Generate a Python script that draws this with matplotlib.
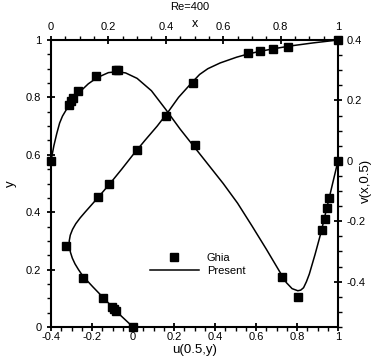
import matplotlib
matplotlib.use("Agg")
import matplotlib.pyplot as plt
import numpy as np
from matplotlib.ticker import MultipleLocator, FixedLocator, FixedFormatter
from matplotlib.lines import Line2D

plt.rcParams['font.family'] = ['Liberation Sans', 'DejaVu Sans']
plt.rcParams['axes.unicode_minus'] = False

# Ghia et al. reference data, Re=400
ghia_y = [1.0, 0.9766, 0.9688, 0.9609, 0.9531, 0.8516, 0.7344, 0.6172, 0.5, 0.4531,
          0.2813, 0.1719, 0.1016, 0.0703, 0.0625, 0.0547, 0.0]
ghia_u = [1.0, 0.75837, 0.68439, 0.61756, 0.55892, 0.29093, 0.16256, 0.02135, -0.11477,
          -0.17119, -0.32726, -0.24299, -0.14612, -0.10338, -0.09266, -0.08186, 0.0]
ghia_x = [1.0, 0.9688, 0.9609, 0.9531, 0.9453, 0.8594, 0.8047, 0.5, 0.2344, 0.2266,
          0.1563, 0.0938, 0.0781, 0.0703, 0.0625, 0.0]
ghia_v = [0.0, -0.12146, -0.15663, -0.19254, -0.22847, -0.44993, -0.38598, 0.05186,
          0.30174, 0.30203, 0.28124, 0.22965, 0.20920, 0.19713, 0.18360, 0.0]

# Present solution
pres_y = [0.0, 0.02, 0.04, 0.06, 0.08, 0.10, 0.12, 0.14, 0.16, 0.18, 0.20, 0.22, 0.24,
          0.26, 0.28, 0.30, 0.32, 0.34, 0.36, 0.38, 0.40, 0.425, 0.45, 0.475, 0.50,
          0.55, 0.60, 0.65, 0.70, 0.75, 0.80, 0.85, 0.88, 0.90, 0.92, 0.94, 0.95,
          0.96, 0.97, 0.98, 0.99, 1.0]
pres_u = [0.0, -0.03, -0.06, -0.088, -0.115, -0.142, -0.169, -0.196, -0.222, -0.247,
          -0.266, -0.283, -0.296, -0.305, -0.310, -0.311, -0.306, -0.295, -0.279,
          -0.258, -0.234, -0.203, -0.172, -0.142, -0.112, -0.055, 0.0, 0.058, 0.118,
          0.172, 0.222, 0.285, 0.325, 0.365, 0.425, 0.505, 0.555, 0.615, 0.69, 0.775,
          0.88, 1.0]
pres_x = [0.0, 0.01, 0.02, 0.03, 0.04, 0.06, 0.08, 0.10, 0.13, 0.16, 0.20, 0.23, 0.26,
          0.30, 0.35, 0.40, 0.45, 0.50, 0.55, 0.60, 0.65, 0.70, 0.75, 0.80, 0.82, 0.84,
          0.86, 0.87, 0.88, 0.89, 0.90, 0.92, 0.94, 0.96, 0.98, 1.0]
pres_v = [0.0, 0.05, 0.09, 0.125, 0.148, 0.18, 0.207, 0.228, 0.255, 0.275, 0.292, 0.295,
          0.291, 0.273, 0.232, 0.17, 0.105, 0.045, -0.015, -0.075, -0.14, -0.215, -0.292,
          -0.372, -0.403, -0.423, -0.430, -0.428, -0.42, -0.40, -0.375, -0.31, -0.24,
          -0.16, -0.08, 0.0]

bottom_ticks = [-0.4, -0.2, 0, 0.2, 0.4, 0.6, 0.8, 1]
bottom_labels = ["-0.4", "-0.2", "0", "0.2", "0.4", "0.6", "0.8", "1"]
left_ticks = [0, 0.2, 0.4, 0.6, 0.8, 1]
left_labels = ["0", "0.2", "0.4", "0.6", "0.8", "1"]
top_ticks = [0, 0.2, 0.4, 0.6, 0.8, 1]
top_labels = ["0", "0.2", "0.4", "0.6", "0.8", "1"]
right_ticks = [-0.4, -0.2, 0, 0.2, 0.4]
right_labels = ["-0.4", "-0.2", "0", "0.2", "0.4"]

W, H = 374, 363
fig = plt.figure(figsize=(W / 100, H / 100), dpi=100)
pos = [51 / W, (H - 327) / H, 287 / W, 287 / H]
ax = fig.add_axes(pos)
ax2 = fig.add_axes(pos, frameon=False)

lw_curve = 1.1
ms = 5.2

ax.plot(pres_u, pres_y, '-', color='black', lw=lw_curve, solid_joinstyle='round')
ax.plot(ghia_u, ghia_y, 's', color='black', ms=ms, clip_on=False)
ax2.plot(pres_x, pres_v, '-', color='black', lw=lw_curve, solid_joinstyle='round')
ax2.plot(ghia_x, ghia_v, 's', color='black', ms=ms, clip_on=False)

ax.set_xlim(-0.4, 1.0)
ax.set_ylim(0, 1)
ax2.set_xlim(0, 1)
ax2.set_ylim(-0.55, 0.4)

for s in ax.spines.values():
    s.set_linewidth(1.5)

ax.xaxis.set_major_locator(FixedLocator(bottom_ticks))
ax.xaxis.set_major_formatter(FixedFormatter(bottom_labels))
ax.yaxis.set_major_locator(FixedLocator(left_ticks))
ax.yaxis.set_major_formatter(FixedFormatter(left_labels))
ax.xaxis.set_minor_locator(MultipleLocator(0.05))
ax.yaxis.set_minor_locator(MultipleLocator(0.05))

ax2.xaxis.tick_top()
ax2.yaxis.tick_right()
ax2.xaxis.set_major_locator(FixedLocator(top_ticks))
ax2.xaxis.set_major_formatter(FixedFormatter(top_labels))
ax2.yaxis.set_major_locator(FixedLocator(right_ticks))
ax2.yaxis.set_major_formatter(FixedFormatter(right_labels))
ax2.xaxis.set_minor_locator(MultipleLocator(0.05))
ax2.yaxis.set_minor_locator(MultipleLocator(0.05))

fs = 8
ax.tick_params(axis='x', which='major', direction='inout', length=6, width=1.3, pad=0.8, labelsize=fs)
ax.tick_params(axis='y', which='major', direction='inout', length=6, width=1.3, pad=4.0, labelsize=fs)
ax.tick_params(which='minor', direction='out', length=3, width=1.0)
ax.tick_params(top=False, right=False, which='both')
ax2.tick_params(axis='x', which='major', direction='inout', length=6, width=1.3, pad=2.5, labelsize=fs)
ax2.tick_params(axis='y', which='major', direction='inout', length=6, width=1.3, pad=3.0, labelsize=fs)
ax2.tick_params(which='minor', direction='out', length=3, width=1.0)
ax2.tick_params(bottom=False, left=False, which='both')

ax.set_xlabel("u(0.5,y)", fontsize=9.5)
ax.xaxis.set_label_coords(0.5, -0.058)
ax.set_ylabel("y", fontsize=9.5)
ax.yaxis.set_label_coords(-0.118, 0.5)
ax2.set_xlabel("x", fontsize=9)
ax2.xaxis.set_label_position('top')
ax2.xaxis.set_label_coords(0.502, 1.046)
ax2.set_ylabel("v(x,0.5)", fontsize=9.5, rotation=90)
ax2.yaxis.set_label_position('right')
ax2.yaxis.set_label_coords(1.075, 0.509)

fig.text(190 / W, 1 - 7 / H, "Re=400", ha='center', va='center', fontsize=8)

handles = [Line2D([], [], ls='none', marker='s', color='black', ms=ms),
           Line2D([], [], ls='-', color='black', lw=lw_curve)]
ax2.legend(handles, ["Ghia", "Present"], loc='upper left',
           bbox_to_anchor=((150 - 51) / 287, (327 - 253) / 287),
           frameon=False, borderpad=0, borderaxespad=0, handlelength=4.4,
           handletextpad=0.7, labelspacing=0.3, fontsize=8)

fig.savefig("out.png", dpi=100)
